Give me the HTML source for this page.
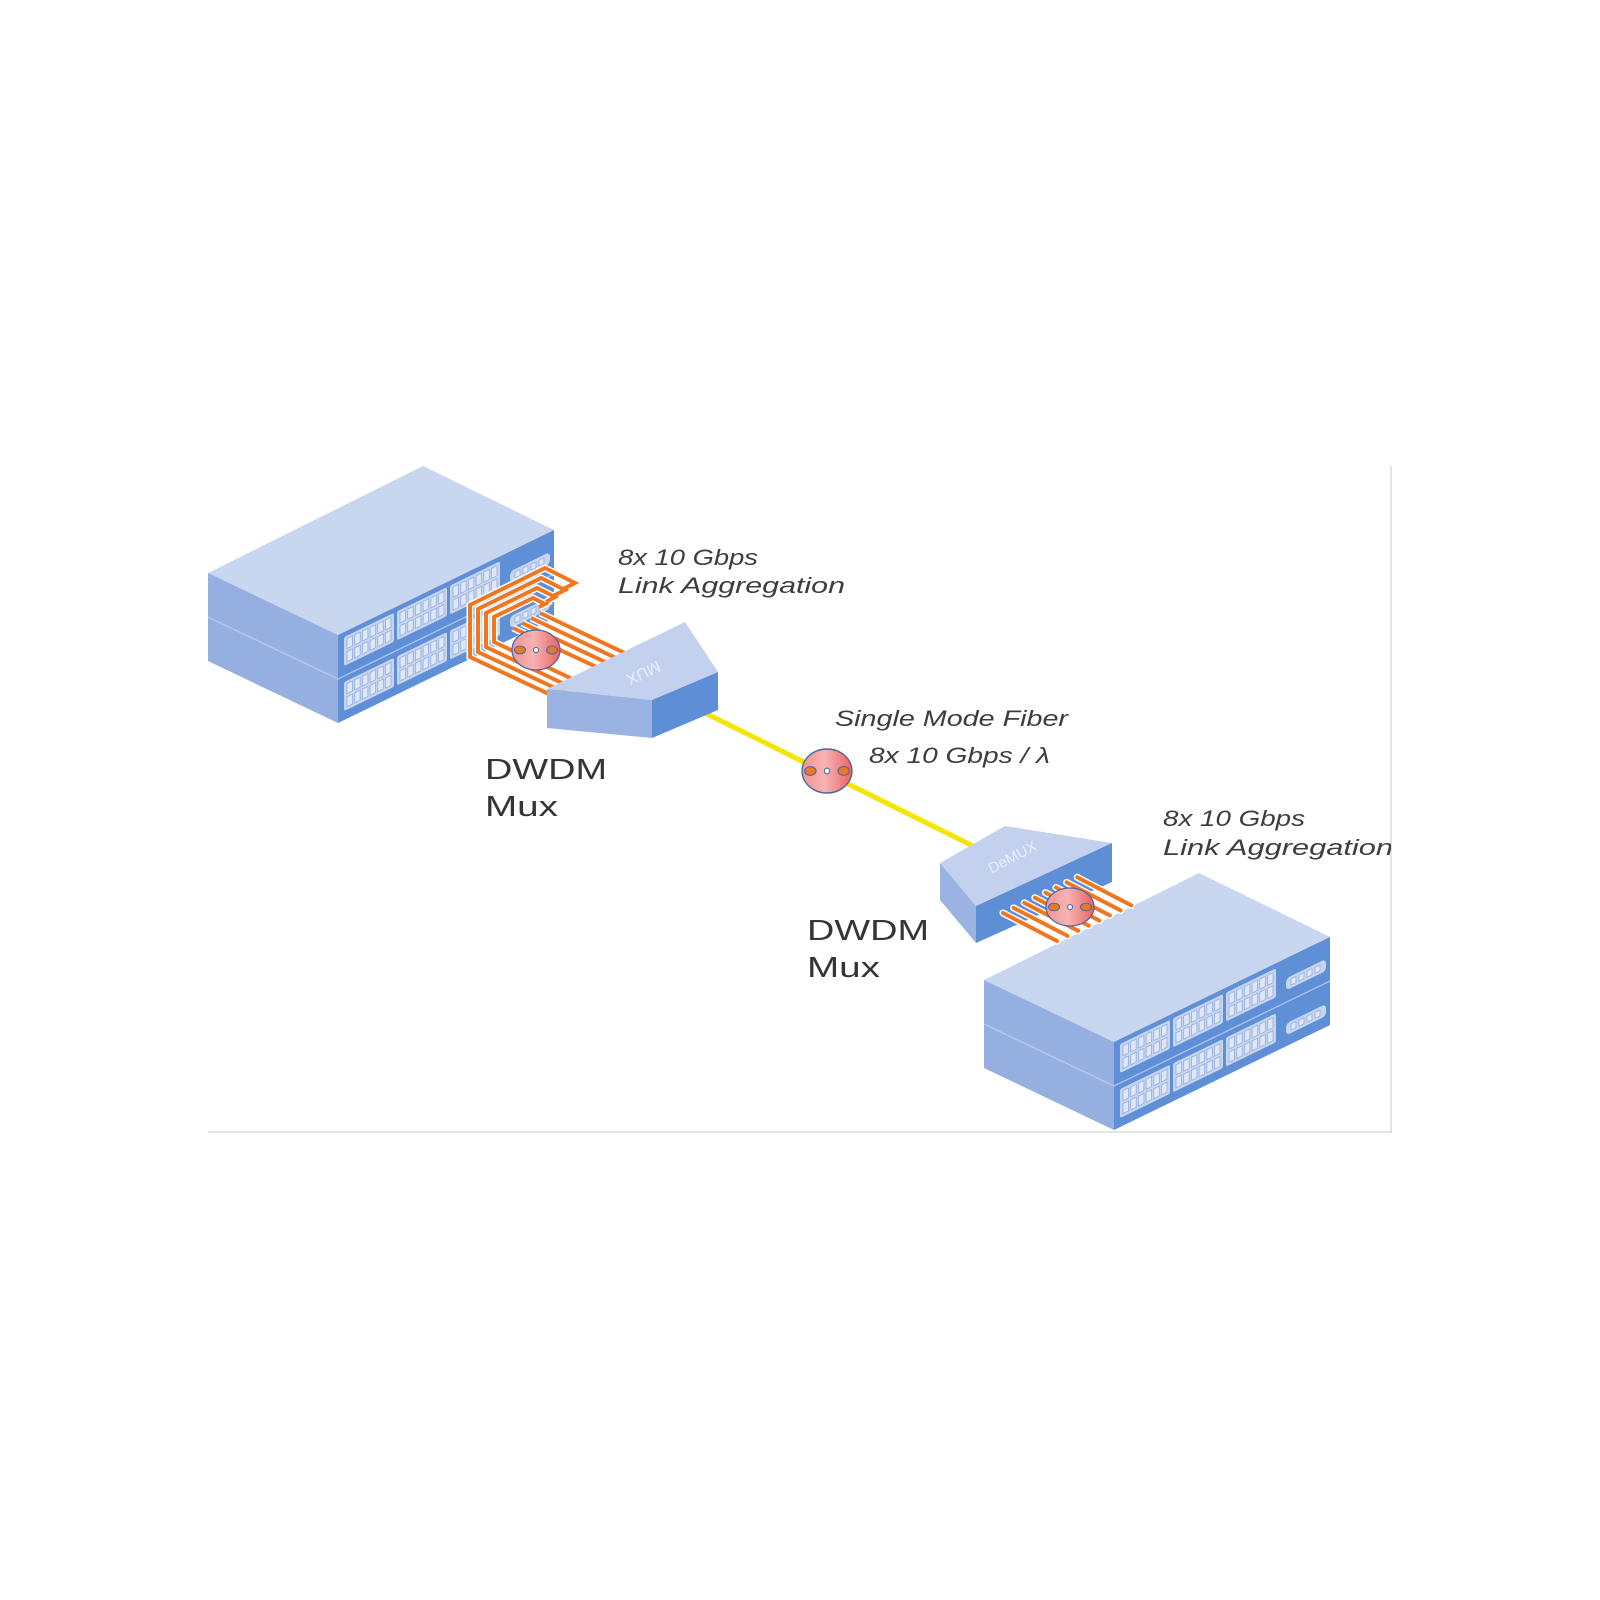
<!DOCTYPE html>
<html>
<head>
<meta charset="utf-8">
<style>
  html, body { margin:0; padding:0; background:#ffffff; }
  svg { display:block; }
  .it { font-family:"Liberation Sans", sans-serif; font-style:italic; fill:#3d3d3d; font-size:22px; }
  .rg { font-family:"Liberation Sans", sans-serif; fill:#353535; font-size:29px; }
</style>
</head>
<body>
<svg width="1600" height="1600" viewBox="0 0 1600 1600" xmlns="http://www.w3.org/2000/svg">
  <defs>
    <linearGradient id="pg" x1="0" y1="0" x2="1" y2="0">
      <stop offset="0" stop-color="#f39393"/>
      <stop offset="0.45" stop-color="#f7b3b3"/>
      <stop offset="1" stop-color="#ec6262"/>
    </linearGradient>
    <clipPath id="frame"><rect x="0" y="0" width="1391" height="1600"/></clipPath>

    <g id="panel">
      <rect x="0" y="0" width="50" height="29" rx="2" fill="#c6d4f0"/>
      <g fill="#dfe7f7" stroke="#93aedd" stroke-width="0.8">
        <rect x="3" y="3" width="5.5" height="10"/><rect x="10.7" y="3" width="5.5" height="10"/>
        <rect x="18.4" y="3" width="5.5" height="10"/><rect x="26.1" y="3" width="5.5" height="10"/>
        <rect x="33.8" y="3" width="5.5" height="10"/><rect x="41.5" y="3" width="5.5" height="10"/>
        <rect x="3" y="16" width="5.5" height="10"/><rect x="10.7" y="16" width="5.5" height="10"/>
        <rect x="18.4" y="16" width="5.5" height="10"/><rect x="26.1" y="16" width="5.5" height="10"/>
        <rect x="33.8" y="16" width="5.5" height="10"/><rect x="41.5" y="16" width="5.5" height="10"/>
      </g>
    </g>
    <g id="spanel">
      <rect x="0" y="0" width="40" height="12" rx="4" fill="#c6d4f0"/>
      <g fill="#dfe7f7" stroke="#93aedd" stroke-width="0.8">
        <rect x="5" y="3" width="5" height="6"/><rect x="13" y="3" width="5" height="6"/>
        <rect x="21" y="3" width="5" height="6"/><rect x="29" y="3" width="5" height="6"/>
      </g>
    </g>

    <g id="sw">
      <polygon points="208,573 423,466 554,530 338,635" fill="#c8d6ef"/>
      <polygon points="208,573 338,635 338,723 208,661" fill="#94afe0"/>
      <line x1="208" y1="617" x2="338" y2="679" stroke="#b3c6ec" stroke-width="1.5"/>
      <polygon points="338,635 554,530 554,618 338,723" fill="#5f8fd6"/>
      <g transform="matrix(1,-0.4861,0,1,338,635)">
        <use href="#panel" x="6" y="5"/>
        <use href="#panel" x="59" y="5"/>
        <use href="#panel" x="112" y="5"/>
        <use href="#spanel" x="172" y="20"/>
        <line x1="0" y1="44" x2="216" y2="44" stroke="#a9c1ec" stroke-width="1.5"/>
        <use href="#panel" x="6" y="50"/>
        <use href="#panel" x="59" y="50"/>
        <use href="#panel" x="112" y="50"/>
        <use href="#spanel" x="172" y="65"/>
      </g>
    </g>

    <g id="mk">
      <ellipse cx="0" cy="0" rx="24" ry="20" fill="url(#pg)" stroke="#4b6b9e" stroke-width="1.3"/>
      <ellipse cx="-16" cy="0" rx="5.5" ry="4" fill="#e8782a" stroke="#4b6b9e" stroke-width="1"/>
      <ellipse cx="16" cy="0" rx="5.5" ry="4" fill="#e8782a" stroke="#4b6b9e" stroke-width="1"/>
      <circle cx="0" cy="0" r="2.6" fill="#ffffff" stroke="#4b6b9e" stroke-width="1"/>
    </g>
  </defs>

  <rect x="0" y="0" width="1600" height="1600" fill="#ffffff"/>

  <line x1="1391" y1="466" x2="1391" y2="1132" stroke="#dadada" stroke-width="1.5"/>
  <line x1="208" y1="1132" x2="1392" y2="1132" stroke="#dadada" stroke-width="1.5"/>

  <use href="#sw"/>

  <g fill="none" stroke-linejoin="miter" stroke-linecap="butt">
    <g stroke="#ffffff" stroke-width="7">
      <polyline points="561,590 575,583 545,568 470,605 470,657 600,718"/>
      <polyline points="553,596 565,590 541,578 478,609 478,652 600,709"/>
      <polyline points="546,602 555,597 537,588 486,613 486,647 600,701"/>
      <polyline points="539,607 545,604 533,598 494,617 494,642 600,692"/>
      <line x1="513" y1="628" x2="650" y2="692"/>
      <line x1="522" y1="623" x2="650" y2="683"/>
      <line x1="531" y1="618" x2="650" y2="674"/>
      <line x1="540" y1="613" x2="650" y2="665"/>
    </g>
    <g stroke="#ef7720" stroke-width="4">
      <polyline points="561,590 575,583 545,568 470,605 470,657 600,718"/>
      <polyline points="553,596 565,590 541,578 478,609 478,652 600,709"/>
      <polyline points="546,602 555,597 537,588 486,613 486,647 600,701"/>
      <polyline points="539,607 545,604 533,598 494,617 494,642 600,692"/>
      <line x1="513" y1="628" x2="650" y2="692"/>
      <line x1="522" y1="623" x2="650" y2="683"/>
      <line x1="531" y1="618" x2="650" y2="674"/>
      <line x1="540" y1="613" x2="650" y2="665"/>
    </g>
  </g>

  <line x1="695" y1="708" x2="985" y2="852" stroke="#f6e500" stroke-width="5"/>

  <polygon points="547,689 685,622 718,672 652,700" fill="#c3d1ef"/>
  <polygon points="547,689 652,700 652,738 547,728" fill="#9bb3e2"/>
  <polygon points="652,700 718,672 718,710 652,738" fill="#5e8fd6"/>
  <text x="0" y="0" transform="translate(643,672) rotate(155)" text-anchor="middle" dominant-baseline="middle" font-family="Liberation Sans, sans-serif" font-size="16" fill="#eef2fa" fill-opacity="0.85">MUX</text>

  <use href="#mk" transform="translate(536,650)"/>

  <use href="#sw" transform="translate(776,407)"/>

  <polygon points="940,863 1005,826 1112,843 976,906" fill="#c3d1ef"/>
  <polygon points="940,863 976,906 976,943 940,900" fill="#9bb3e2"/>
  <polygon points="976,906 1112,843 1112,882 976,943" fill="#5e8fd6"/>
  <text x="0" y="0" transform="translate(1013,858) rotate(-28)" text-anchor="middle" dominant-baseline="middle" font-family="Liberation Sans, sans-serif" font-size="15" fill="#eef2fa" fill-opacity="0.85">DeMUX</text>

  <g stroke-linecap="round">
    <g stroke="#ffffff" stroke-width="7">
      <line x1="1003" y1="913" x2="1057" y2="941"/>
      <line x1="1013.6" y1="907.9" x2="1067.6" y2="935.9"/>
      <line x1="1024.2" y1="902.8" x2="1078.2" y2="930.8"/>
      <line x1="1034.8" y1="897.7" x2="1088.8" y2="925.7"/>
      <line x1="1045.4" y1="892.6" x2="1099.4" y2="920.6"/>
      <line x1="1056" y1="887.5" x2="1110" y2="915.5"/>
      <line x1="1066.6" y1="882.4" x2="1120.6" y2="910.4"/>
      <line x1="1077.2" y1="877.3" x2="1131.2" y2="905.3"/>
    </g>
    <g stroke="#ef7720" stroke-width="4">
      <line x1="1003" y1="913" x2="1057" y2="941"/>
      <line x1="1013.6" y1="907.9" x2="1067.6" y2="935.9"/>
      <line x1="1024.2" y1="902.8" x2="1078.2" y2="930.8"/>
      <line x1="1034.8" y1="897.7" x2="1088.8" y2="925.7"/>
      <line x1="1045.4" y1="892.6" x2="1099.4" y2="920.6"/>
      <line x1="1056" y1="887.5" x2="1110" y2="915.5"/>
      <line x1="1066.6" y1="882.4" x2="1120.6" y2="910.4"/>
      <line x1="1077.2" y1="877.3" x2="1131.2" y2="905.3"/>
    </g>
  </g>

  <use href="#mk" transform="translate(827,771) scale(1.04,1.1)"/>
  <use href="#mk" transform="translate(1070,907) scale(1,0.95)"/>

  <text class="it" x="618" y="565" textLength="140" lengthAdjust="spacingAndGlyphs">8x 10 Gbps</text>
  <text class="it" x="618" y="593" textLength="227" lengthAdjust="spacingAndGlyphs">Link Aggregation</text>

  <text class="rg" x="485" y="779" textLength="122" lengthAdjust="spacingAndGlyphs">DWDM</text>
  <text class="rg" x="485" y="816" textLength="73" lengthAdjust="spacingAndGlyphs">Mux</text>

  <text class="it" x="835" y="726" textLength="233" lengthAdjust="spacingAndGlyphs">Single Mode Fiber</text>
  <text class="it" x="869" y="763" textLength="181" lengthAdjust="spacingAndGlyphs">8x 10 Gbps / λ</text>

  <g clip-path="url(#frame)">
    <text class="it" x="1163" y="826" textLength="142" lengthAdjust="spacingAndGlyphs">8x 10 Gbps</text>
    <text class="it" x="1163" y="855" textLength="230" lengthAdjust="spacingAndGlyphs">Link Aggregation</text>
  </g>

  <text class="rg" x="807" y="940" textLength="122" lengthAdjust="spacingAndGlyphs">DWDM</text>
  <text class="rg" x="807" y="977" textLength="73" lengthAdjust="spacingAndGlyphs">Mux</text>
</svg>
</body>
</html>
